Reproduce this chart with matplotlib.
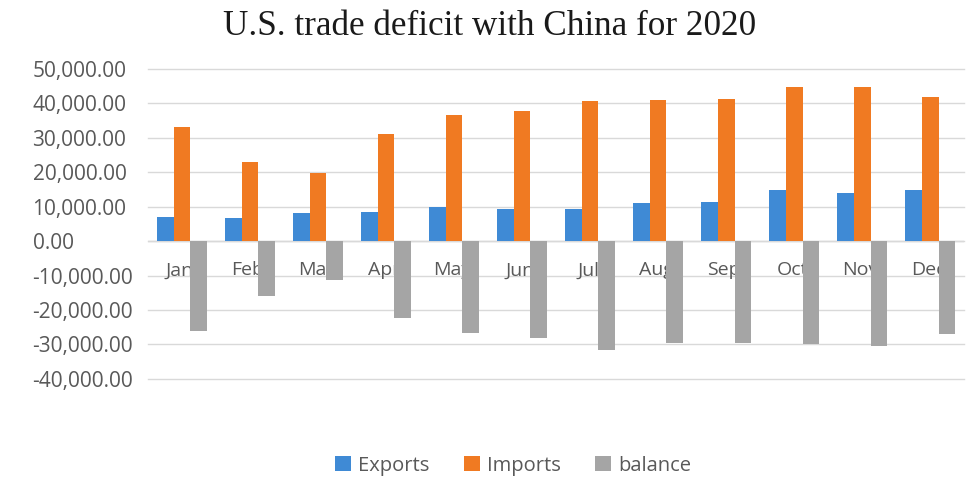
import numpy as np
import matplotlib
matplotlib.use("Agg")
import matplotlib.pyplot as plt
from matplotlib.ticker import FuncFormatter

months = ["Jan", "Feb", "Mar", "Apr", "May", "Jun", "Jul", "Aug", "Sep", "Oct", "Nov", "Dec"]
exports = [7060, 6600, 8050, 8500, 9800, 9200, 9200, 11100, 11400, 14800, 14000, 14800]
imports = [33200, 23000, 19700, 31100, 36500, 37800, 40700, 41000, 41200, 44700, 44900, 41900]
balance = [-26100, -16000, -11300, -22200, -26800, -28100, -31500, -29700, -29700, -30000, -30500, -27000]

plt.rcParams['font.family'] = ['Open Sans', 'DejaVu Sans']

fig = plt.figure(figsize=(9.79, 4.79), dpi=100)
ax = fig.add_axes([0.151, 0.209, 0.834, 0.647])

x = np.arange(len(months))
w = 0.245
ax.bar(x - w, exports, w, color='#3f8ad5', label='Exports', zorder=3)
ax.bar(x, imports, w, color='#f07a22', label='Imports', zorder=3)
ax.bar(x + w, balance, w, color='#a5a5a5', label='balance', zorder=3)

ax.set_xlim(-0.5, len(months) - 0.5)
ax.set_ylim(-40000, 50000)
ax.set_yticks(np.arange(-40000, 50001, 10000))
ax.yaxis.set_major_formatter(FuncFormatter(lambda v, p: f"{v:,.2f}"))
ax.tick_params(axis='y', length=0, labelsize=15, labelcolor='#595959', pad=83)
ax.set_xticks([])
for lbl in ax.get_yticklabels():
    lbl.set_horizontalalignment('left')

ax.grid(axis='y', color='#d9d9d9', linewidth=1, zorder=0)
for gl in ax.get_ygridlines():
    gl.set_clip_on(False)
ax.axhline(0, color='#d0d0d0', linewidth=1, zorder=1)
for s in ax.spines.values():
    s.set_visible(False)

# category labels sit just below the zero line, behind the balance bars
for xi, m in zip(x, months):
    ax.text(xi - 0.03, -8500, m, ha='center', va='center', fontsize=14,
            color='#595959', zorder=2)

fig.suptitle("U.S. trade deficit with China for 2020", x=0.5, y=0.98,
             fontsize=25.3, family='Liberation Serif', color='#1a1a1a')

fig.legend(loc='center', bbox_to_anchor=(0.524, 0.028), ncol=3, frameon=False,
           fontsize=14.5, labelcolor='#595959', handlelength=0.8, handleheight=0.8,
           handletextpad=0.35, columnspacing=1.7)

fig.savefig("out.png", dpi=100, facecolor='white')
